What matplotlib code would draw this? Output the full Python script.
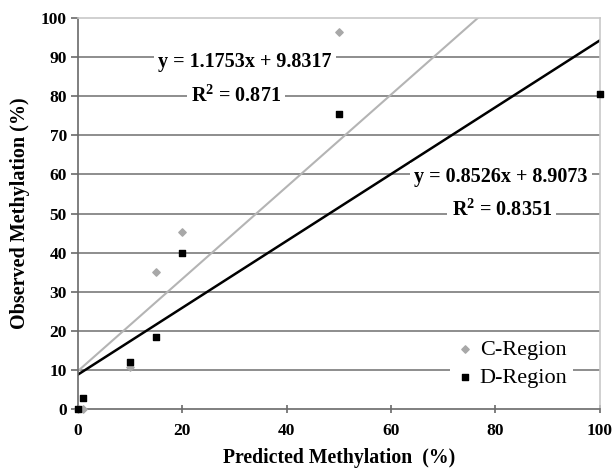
import matplotlib
matplotlib.use("Agg")
import matplotlib.pyplot as plt
import numpy as np

plt.rcParams["font.family"] = ["Liberation Serif", "DejaVu Serif"]
plt.rcParams["mathtext.fontset"] = "custom"
plt.rcParams["mathtext.rm"] = "Liberation Serif"
plt.rcParams["mathtext.bf"] = "Liberation Serif:bold"

predicted = [0, 1, 10, 15, 20, 50, 100]
c_region = [0, 0.2, 10.9, 35.2, 45.4, 96.4, 111.0]
d_region = [0, 2.9, 12.2, 18.6, 39.8, 75.4, 80.4]

c_fit = [1.1753, 9.8317]
d_fit = [0.8526, 8.9073]
c_r2 = 0.871
d_r2 = 0.8351

x_ticks = [0, 20, 40, 60, 80, 100]
y_ticks = list(range(0, 101, 10))

fig = plt.figure(figsize=(6.12, 4.75), dpi=100)
ax = fig.add_axes([0.1275, 0.138, 0.8525, 0.825])

ax.set_xlim(0, 100)
ax.set_ylim(0, 100)

for y in y_ticks[1:-1]:
    ax.axhline(y, color="#7a7a7a", lw=1.2, zorder=1)

xs = np.array([0, 100])
ax.plot(xs, c_fit[0] * xs + c_fit[1], color="#b4b4b4", lw=1.5, zorder=2)
ax.plot(xs, d_fit[0] * xs + d_fit[1], color="black", lw=1.8, zorder=2)

ax.scatter(predicted, c_region, marker="D", s=14, color="#a8a8a8", zorder=4,
           label="C-Region", clip_on=False)
ax.scatter(predicted, d_region, marker="s", s=22, color="black", zorder=5,
           label="D-Region", clip_on=False)

box = dict(facecolor="white", edgecolor="none", pad=3)
eq_font = dict(fontsize=14.5, fontweight="bold", ha="center", va="center", zorder=6, bbox=box)
ax.text(32, 88.6, f"y = {c_fit[0]}x + {c_fit[1]}", **eq_font)
ax.text(30.3, 80.0, rf"R$^\mathbf{{2}}$ = {c_r2}", **eq_font)
ax.text(81, 59.3, f"y = {d_fit[0]}x + {d_fit[1]}", **eq_font)
ax.text(81.2, 50.9, rf"R$^\mathbf{{2}}$ = {d_r2}", **eq_font)

leg = ax.legend(loc="lower right", bbox_to_anchor=(0.97, 0.012), frameon=True,
                fontsize=16, handletextpad=0.2, labelspacing=0.35,
                borderpad=0.25, handlelength=0.9, scatterpoints=1)
leg.get_frame().set_edgecolor("none")
leg.get_frame().set_facecolor("white")
leg.get_frame().set_alpha(1)
leg.set_zorder(7)

ax.spines["left"].set_color("#6a6a6a")
ax.spines["bottom"].set_color("#6a6a6a")
ax.spines["top"].set_color("#c8c8c8")
ax.spines["right"].set_color("#c8c8c8")
for s in ax.spines.values():
    s.set_linewidth(1.2)

ax.set_xticks(x_ticks)
ax.set_yticks(y_ticks)
ax.tick_params(axis="x", direction="inout", length=6, width=1.2, color="#6a6a6a",
               labelsize=12.5, pad=7)
ax.tick_params(axis="y", direction="out", length=5, width=1.2, color="#6a6a6a",
               labelsize=12.5, pad=3)
for lab in ax.get_xticklabels() + ax.get_yticklabels():
    lab.set_fontweight("bold")

ax.set_xlabel("Predicted Methylation  (%)", fontsize=14.2, fontweight="bold", labelpad=6)
ax.set_ylabel("Observed Methylation (%)", fontsize=14.5, fontweight="bold", labelpad=8)

fig.savefig("out.png", dpi=100)
